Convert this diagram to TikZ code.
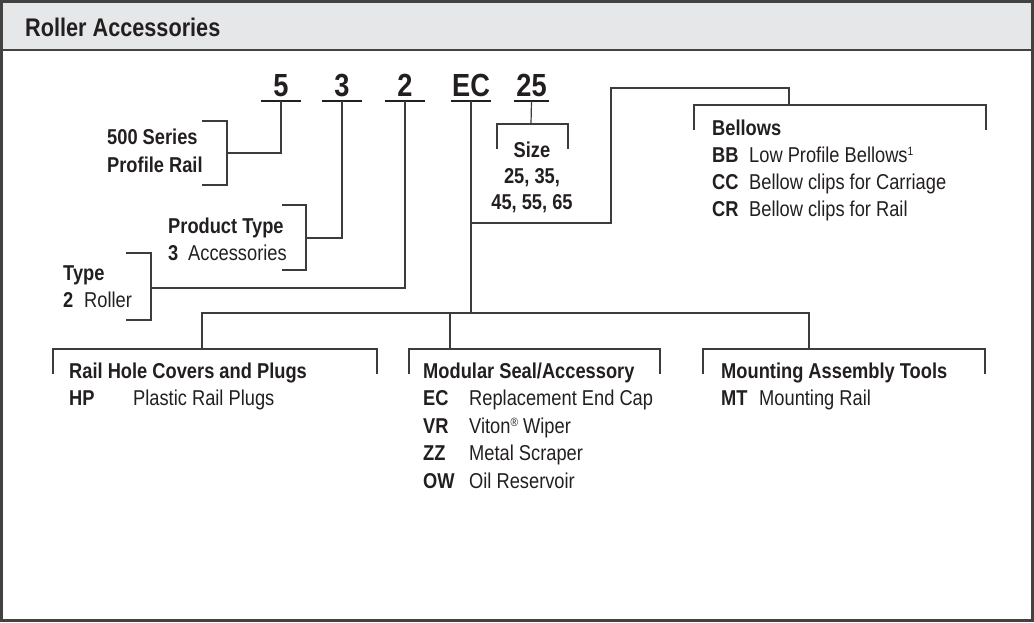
\documentclass[tikz,border=0pt]{standalone}
\usepackage{fontspec}
\setmainfont{Liberation Sans}[FakeStretch=0.85]
\definecolor{ink}{HTML}{231F20}
\definecolor{band}{HTML}{E6E7E8}
\definecolor{rule}{HTML}{3C3C3C}

\begin{document}
\begin{tikzpicture}[x=1pt, y=-1pt, font=\fontsize{21.5}{27}\selectfont, text=ink,
  dig/.style={font=\bfseries\fontsize{32}{32}\selectfont, minimum width=40pt, inner xsep=0pt, inner ysep=4.5pt, text depth=0pt, anchor=south},
  t/.style={anchor=base west, inner sep=0pt},
  c/.style={anchor=base, inner sep=0pt},
  ln/.style={draw=rule, line width=1.2pt},
  ul/.style={draw=ink, line width=2pt},
  frame/.style={draw=ink!85, line width=2.5pt}
]
  \useasboundingbox (0,0) rectangle (1034,622);

  % frame and header band
  \fill[band] (1.5,1.5) rectangle (1032.5,50);
  \draw[frame, line width=2pt] (1.5,50) -- (1032.5,50);
  \draw[frame] (1.5,1.5) rectangle (1032.5,620.5);
  \node[t, font=\bfseries\fontsize{25.5}{25.5}\selectfont] (title) at (25,36) {Roller Accessories};

  % part number
  \node[dig] (n5) at (281,101) {5};
  \node[dig] (n3) at (342,101) {3};
  \node[dig] (n2) at (405,101) {2};
  \node[dig] (nEC) at (471,101) {EC};
  \node[dig, minimum width=35pt] (n25) at (531.5,101) {25};
  \foreach \n in {n5,n3,n2,nEC,n25}
    \draw[ul] (\n.south west) -- (\n.south east);

  % series
  \coordinate (k5) at (227,153);
  \draw[ln] (n5.south) |- (k5);
  \draw[ln] (202,121) -| (227,185) -- (202,185);
  \node[t] (series) at (107,144) {\textbf{500 Series}};
  \node[t] (profile) at (107,172) {\textbf{Profile Rail}};

  % product type
  \coordinate (k3) at (306,238);
  \draw[ln] (n3.south) |- (k3);
  \draw[ln] (282,205) -| (306,270) -- (282,270);
  \node[t] (ptype) at (168,233) {\textbf{Product Type}};
  \node[t] (p3) at (168,260) {\textbf{3}};
  \node[t] (p3d) at (188,260) {Accessories};

  % type
  \coordinate (k2) at (151,288);
  \draw[ln] (n2.south) |- (k2);
  \draw[ln] (126,253) -| (151,320) -- (126,320);
  \node[t] (type) at (63,280) {\textbf{Type}};
  \node[t] (t2) at (63,307) {\textbf{2}};
  \node[t] (t2d) at (84,307) {Roller};

  % size
  \coordinate (k25) at (531,124);
  \draw[ln] (n25.south) -- (k25);
  \draw[ln] (497,149) |- (568,124) -- (568,149);
  \node[c] (size) at (532,157) {\textbf{Size}};
  \node[c] (size1) at (532,183) {\textbf{25, 35,}};
  \node[c] (size2) at (532,209) {\textbf{45, 55, 65}};

  % accessory bus
  \coordinate (bus) at (471,313);
  \coordinate (kb) at (789,105);
  \draw[ln] (nEC.south) -- (bus);
  \draw[ln] (471,223) -| (611,88) -| (kb);
  \draw[ln] (202,349) |- (809,313) -- (809,349);
  \draw[ln] (450,313) -- (450,349);

  % bellows
  \draw[ln] (694,130) |- (986,105) -- (986,130);
  \node[t] (bel) at (712,135) {\textbf{Bellows}};
  \node[t] (bb) at (712,162) {\textbf{BB}};
  \node[t] (bbd) at (749,162) {Low Profile Bellows{\fontsize{12}{12}\selectfont\raisebox{7pt}{1}}};
  \node[t] (cc) at (712,189) {\textbf{CC}};
  \node[t] (ccd) at (749,189) {Bellow clips for Carriage};
  \node[t] (cr) at (712,216) {\textbf{CR}};
  \node[t] (crd) at (749,216) {Bellow clips for Rail};

  % columns
  \draw[ln] (53,374) |- (377,349) -- (377,374);
  \draw[ln] (409,374) |- (660,349) -- (660,374);
  \draw[ln] (703,374) |- (985,349) -- (985,374);

  \node[t] (rail) at (69,378) {\textbf{Rail Hole Covers and Plugs}};
  \node[t] (hp) at (69,405.5) {\textbf{HP}};
  \node[t] (hpd) at (133,405.5) {Plastic Rail Plugs};

  \node[t] (seal) at (423,378) {\textbf{Modular Seal/Accessory}};
  \node[t] (ec) at (423,405.5) {\textbf{EC}};
  \node[t] (ecd) at (469,405.5) {Replacement End Cap};
  \node[t] (vr) at (423,433) {\textbf{VR}};
  \node[t] (vrd) at (469,433) {Viton{\fontsize{12}{12}\selectfont\raisebox{7pt}{®}} Wiper};
  \node[t] (zz) at (423,460.5) {\textbf{ZZ}};
  \node[t] (zzd) at (469,460.5) {Metal Scraper};
  \node[t] (ow) at (423,488) {\textbf{OW}};
  \node[t] (owd) at (469,488) {Oil Reservoir};

  \node[t] (tools) at (721,378) {\textbf{Mounting Assembly Tools}};
  \node[t] (mt) at (721,405.5) {\textbf{MT}};
  \node[t] (mtd) at (759,405.5) {Mounting Rail};
\end{tikzpicture}
\end{document}
